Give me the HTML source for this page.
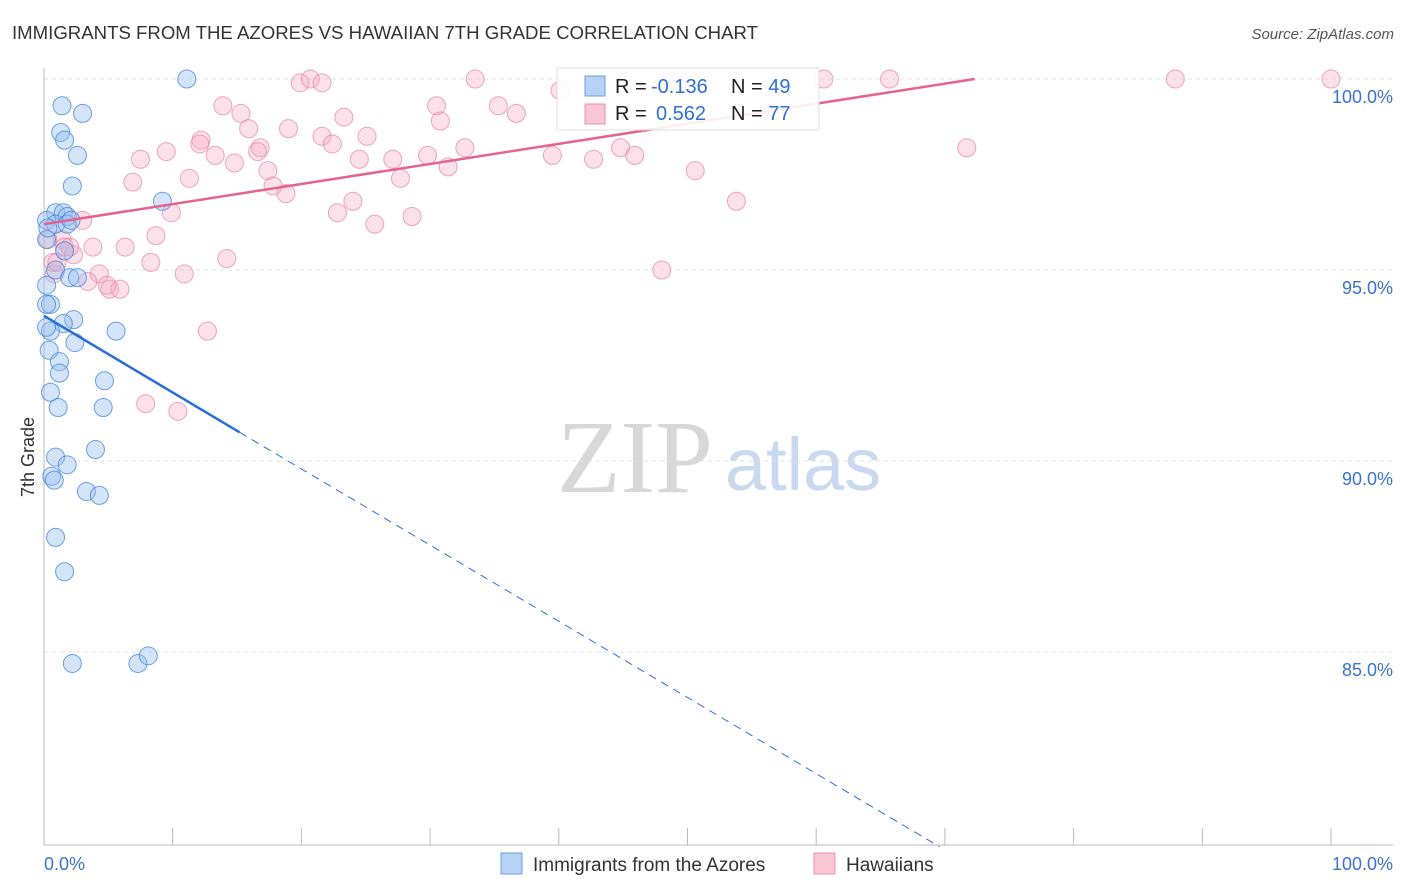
<!DOCTYPE html>
<html><head><meta charset="utf-8"><style>
body{margin:0;background:#fff;font-family:"Liberation Sans",sans-serif}
svg{display:block}
</style></head><body>
<svg id="chart" width="1406" height="892" xmlns="http://www.w3.org/2000/svg">
<text x="12" y="39" font-size="18" fill="#333" textLength="746" lengthAdjust="spacingAndGlyphs">IMMIGRANTS FROM THE AZORES VS HAWAIIAN 7TH GRADE CORRELATION CHART</text>
<text x="1394" y="39" font-size="15" fill="#555" text-anchor="end" font-style="italic">Source: ZipAtlas.com</text>
<text x="0" y="0" transform="translate(34,457) rotate(-90)" font-size="18" fill="#333" text-anchor="middle">7th Grade</text>
<g><text x="635" y="492" font-size="104" fill="#d8d8d8" font-family="Liberation Serif,serif" text-anchor="middle">ZIP</text><text x="803" y="490" font-size="74" fill="#c9daf0" text-anchor="middle">atlas</text></g>
<g id="grid"></g><g id="axes"></g><g id="pts"></g><g id="lines"></g>
<g>
<rect x="557" y="68" width="262" height="62" fill="#fff" stroke="#ddd" opacity="0.9"/>
<rect x="585" y="76" width="20" height="20" fill="#b8d2f5" stroke="#6a9fe0"/>
<rect x="585" y="104" width="20" height="20" fill="#f9c6d5" stroke="#ec8fae"/>
<text x="615" y="93" font-size="20" fill="#222">R = <tspan fill="#2f6fd6" x="651">-0.136</tspan><tspan x="731">N = </tspan><tspan fill="#2f6fd6">49</tspan></text>
<text x="615" y="120" font-size="20" fill="#222">R = <tspan fill="#2f6fd6" x="656">0.562</tspan><tspan x="731">N = </tspan><tspan fill="#2f6fd6">77</tspan></text>
</g>
<g>
<rect x="501" y="853" width="21" height="21" fill="#b8d2f5" stroke="#6a9fe0"/>
<text x="533" y="871" font-size="19" fill="#333">Immigrants from the Azores</text>
<rect x="814" y="853" width="21" height="21" fill="#f9c6d5" stroke="#ec8fae"/>
<text x="846" y="871" font-size="19" fill="#333">Hawaiians</text>
</g>
</svg>
<script>
const yTicks=[100,95,90,85];
const xTickLabels=["0.0%","100.0%"];
const blueX=[11.1,1.4,3.0,1.3,1.6,2.6,2.2,9.2,0.9,1.5,1.8,0.2,0.9,1.8,0.2,1.6,0.9,2.0,2.6,0.2,0.5,0.2,2.3,1.5,0.5,0.2,5.6,2.4,0.4,1.2,1.2,4.7,0.5,4.6,1.1,4.0,0.9,1.8,0.6,0.8,3.3,4.3,0.9,1.6,2.2,7.3,8.1,0.3,2.1];
const blueY=[100,99.3,99.1,98.6,98.4,98.0,97.2,96.8,96.5,96.5,96.4,96.3,96.2,96.2,95.8,95.5,95.0,94.8,94.8,94.6,94.1,94.1,93.7,93.6,93.4,93.5,93.4,93.1,92.9,92.6,92.3,92.1,91.8,91.4,91.4,90.3,90.1,89.9,89.6,89.5,89.2,89.1,88.0,87.1,84.7,84.7,84.9,96.1,96.3];
const pinkX=[19.9,20.7,21.6,33.5,40.1,48.3,60.6,65.7,87.9,100,13.9,15.3,30.5,35.3,36.7,30.8,23.3,15.9,19.0,12.2,12.1,21.6,22.4,25.1,16.8,13.3,16.6,9.5,7.5,14.8,24.5,27.1,29.8,32.7,39.5,42.7,44.8,45.9,71.7,31.4,17.4,11.3,6.9,17.8,27.7,50.6,18.8,24.0,22.8,9.9,3.0,25.7,28.6,53.8,8.7,1.4,1.6,3.8,6.3,2.3,0.7,8.3,14.2,0.8,4.3,10.9,3.4,5.1,5.9,4.9,48.0,12.7,7.9,10.4,0.3,1.0,2.0];
const pinkY=[99.9,100,99.9,100,99.7,99.9,100,100,100,100,99.3,99.1,99.3,99.3,99.1,98.9,99.0,98.7,98.7,98.4,98.3,98.5,98.3,98.5,98.2,98.0,98.1,98.1,97.9,97.8,97.9,97.9,98.0,98.2,98.0,97.9,98.2,98.0,98.2,97.7,97.6,97.4,97.3,97.2,97.4,97.6,97.0,96.8,96.5,96.5,96.3,96.2,96.4,96.8,95.9,95.8,95.6,95.6,95.6,95.4,95.2,95.2,95.3,94.9,94.9,94.9,94.7,94.5,94.5,94.6,95.0,93.4,91.5,91.3,95.8,95.2,95.6];
const trendPink=[0,96.2,72.3,100];
const trendBlueSolid=[0,93.8,15.2,90.75];
const trendBlueDash=[15.2,90.75,69.6,79.9];
const X=v=>44+v*12.87, Y=v=>79+(100-v)*38.2;
const NS="http://www.w3.org/2000/svg";
function mk(p,t,a){const e=document.createElementNS(NS,t);for(const k in a)e.setAttribute(k,a[k]);p.appendChild(e);return e;}
const grid=document.getElementById('grid'),axes=document.getElementById('axes'),pts=document.getElementById('pts'),lines=document.getElementById('lines');
yTicks.forEach(v=>{
 const g=mk(grid,'line',{x1:44,x2:1393,y1:Y(v),y2:Y(v),stroke:'#e2e2e2','stroke-dasharray':'4,4'});
 
 
 const t=mk(axes,'text',{x:1393,y:Y(v)+24,'font-size':18,fill:'#3a72d0','text-anchor':'end'});
 t.textContent=v.toFixed(1)+'%';
 
 
});
mk(axes,'line',{x1:44,x2:44,y1:68,y2:845,stroke:'#bbb'});
mk(axes,'line',{x1:44,x2:1393,y1:845,y2:845,stroke:'#bbb'});
for(let i=0;i<=10;i++){const l=mk(axes,'line',{x1:X(i*10),x2:X(i*10),y1:828,y2:845,stroke:'#bbb'});
 
 }
const t0=mk(axes,'text',{x:44,y:870,'font-size':18,fill:'#3a72d0'});t0.textContent=xTickLabels[0];


const t1=mk(axes,'text',{x:1393,y:870,'font-size':18,fill:'#3a72d0','text-anchor':'end'});t1.textContent=xTickLabels[1];


pinkX.forEach((x,i)=>{const c=mk(pts,'circle',{cx:X(x),cy:Y(pinkY[i]),r:9,fill:'rgba(246,170,195,0.35)',stroke:'rgba(230,130,165,0.7)','stroke-width':1});
 
 });
blueX.forEach((x,i)=>{const c=mk(pts,'circle',{cx:X(x),cy:Y(blueY[i]),r:9,fill:'rgba(150,190,240,0.4)',stroke:'rgba(60,130,220,0.75)','stroke-width':1});
 
 });
const lp=mk(lines,'line',{x1:X(trendPink[0]),y1:Y(trendPink[1]),x2:X(trendPink[2]),y2:Y(trendPink[3]),stroke:'#e4648f','stroke-width':2.5});


const lb=mk(lines,'line',{x1:X(trendBlueSolid[0]),y1:Y(trendBlueSolid[1]),x2:X(trendBlueSolid[2]),y2:Y(trendBlueSolid[3]),stroke:'#2a6fd8','stroke-width':2.5});


const ld=mk(lines,'line',{x1:X(trendBlueDash[0]),y1:Y(trendBlueDash[1]),x2:X(trendBlueDash[2]),y2:Y(trendBlueDash[3]),stroke:'#2a6fd8','stroke-width':1,'stroke-dasharray':'8,6'});


</script>
</body></html>
